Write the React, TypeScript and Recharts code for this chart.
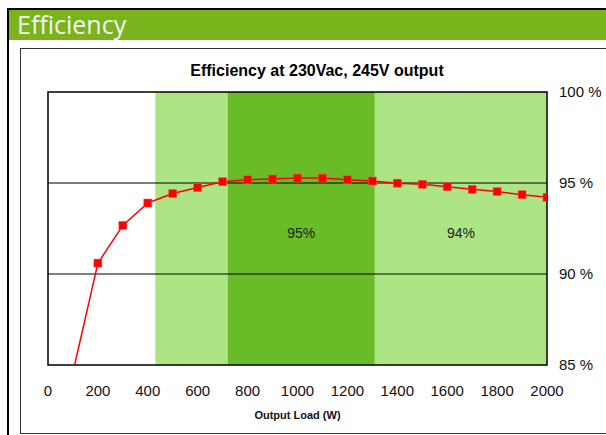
import React from "react";
import {
  LineChart, Line, XAxis, YAxis, ReferenceArea, ReferenceLine,
} from "recharts";

// output load (W) and measured efficiency (%)
const loads = [100, 200, 300, 400, 500, 600, 700, 800, 900, 1000, 1100, 1200, 1300, 1400, 1500, 1600, 1700, 1800, 1900, 2000];
const efficiency = [84.6, 90.6, 92.67, 93.9, 94.42, 94.75, 95.07, 95.18, 95.22, 95.27, 95.27, 95.18, 95.11, 94.99, 94.93, 94.8, 94.65, 94.53, 94.36, 94.21];

const xTicks = [0, 200, 400, 600, 800, 1000, 1200, 1400, 1600, 1800, 2000];
const yTicks = [85, 90, 95, 100];
const gridLines = [90, 95];

// shaded load ranges behind the curve
const bandStart = [430, 720, 1310];
const bandEnd = [720, 1310, 2000];
const bandLabel = ["", "95%", "94%"];
const bandFill = ["#ade584", "#69bb27", "#ade584"];

const data = loads.map((load, i) => ({ load, eff: efficiency[i] }));

const SquareDot = (props: any) => {
  const { cx, cy, index, payload } = props;
  // first point sits below the visible range, no marker there
  if (payload.eff < 85 || cx == null || cy == null) return <g key={"d" + index} />;
  return <rect key={"d" + index} x={cx - 4} y={cy - 4} width={8} height={8} fill="#ff0000" stroke="#ff5050" strokeWidth={0.5} />;
};

const BandLabel = (text: string) => (props: any) => {
  const vb = props.viewBox;
  if (!text || !vb) return null;
  return (
    <text x={vb.x + vb.width / 2} y={vb.y + vb.height / 2 + 9} textAnchor="middle"
      fontSize={14} fill="#222" fontFamily="'Liberation Sans', Arial, sans-serif">
      {text}
    </text>
  );
};

export default function App() {
  return (
    <div style={{ position: "absolute", left: 0, top: 0, width: 606, height: 435, overflow: "hidden", background: "#fff" }}>
      {/* outer black box */}
      <div style={{ position: "absolute", left: 7, top: 8, width: 640, height: 460, border: "2px solid #000", boxSizing: "border-box" }} />
      {/* green header */}
      <div style={{
        position: "absolute", left: 9, top: 10, width: 620, height: 30, background: "#79b41c",
        color: "#f4f4f4", fontFamily: "'Open Sans', sans-serif", fontSize: 25, lineHeight: "29px", paddingLeft: 8, boxSizing: "border-box",
      }}>
        Efficiency
      </div>
      {/* chart frame */}
      <div style={{ position: "absolute", left: 20, top: 48, width: 620, height: 386, border: "1px solid #333", boxSizing: "border-box" }} />
      <div style={{
        position: "absolute", left: 20, top: 63, width: 594, textAlign: "center",
        fontFamily: "'Liberation Sans', Arial, sans-serif", fontWeight: "bold", fontSize: 16, lineHeight: "16px", color: "#000",
      }}>
        Efficiency at 230Vac, 245V output
      </div>
      <div style={{ position: "absolute", left: 0, top: 0 }}>
        <LineChart width={606} height={435} data={data} margin={{ top: 92, right: 0, left: 48, bottom: 16 }}>
          {bandStart.map((x1, i) => (
            <ReferenceArea key={"b" + i} x1={x1} x2={bandEnd[i]} y1={85} y2={100} fill={bandFill[i]} fillOpacity={1} stroke="none"
              label={BandLabel(bandLabel[i])} />
          ))}
          {gridLines.map((y) => (
            <ReferenceLine key={"g" + y} y={y} stroke="#000" strokeWidth={1} />
          ))}
          <ReferenceArea x1={0} x2={2000} y1={85} y2={100} fill="none" stroke="#000" strokeWidth={1.5} />
          <XAxis dataKey="load" type="number" domain={[0, 2000]} ticks={xTicks} allowDataOverflow
            axisLine={false} tickLine={false} tickSize={0} tickMargin={20} height={54} interval={0}
            tick={{ fontSize: 15, fill: "#111", fontFamily: "'Liberation Sans', Arial, sans-serif" }}
            label={{ value: "Output Load (W)", position: "insideBottom", offset: 0, fontSize: 11, fontWeight: "bold", fill: "#111", fontFamily: "'Liberation Sans', Arial, sans-serif" }} />
          <YAxis orientation="right" type="number" domain={[85, 100]} ticks={yTicks} allowDataOverflow width={59}
            axisLine={false} tickLine={false} tickSize={0} tickMargin={12} interval={0}
            tickFormatter={(v: number) => v + " %"}
            tick={{ fontSize: 15, fill: "#111", fontFamily: "'Liberation Sans', Arial, sans-serif" }} />
          <Line type="linear" dataKey="eff" stroke="#ff0000" strokeWidth={1.5} dot={SquareDot} activeDot={false} isAnimationActive={false} />
        </LineChart>
      </div>
    </div>
  );
}
